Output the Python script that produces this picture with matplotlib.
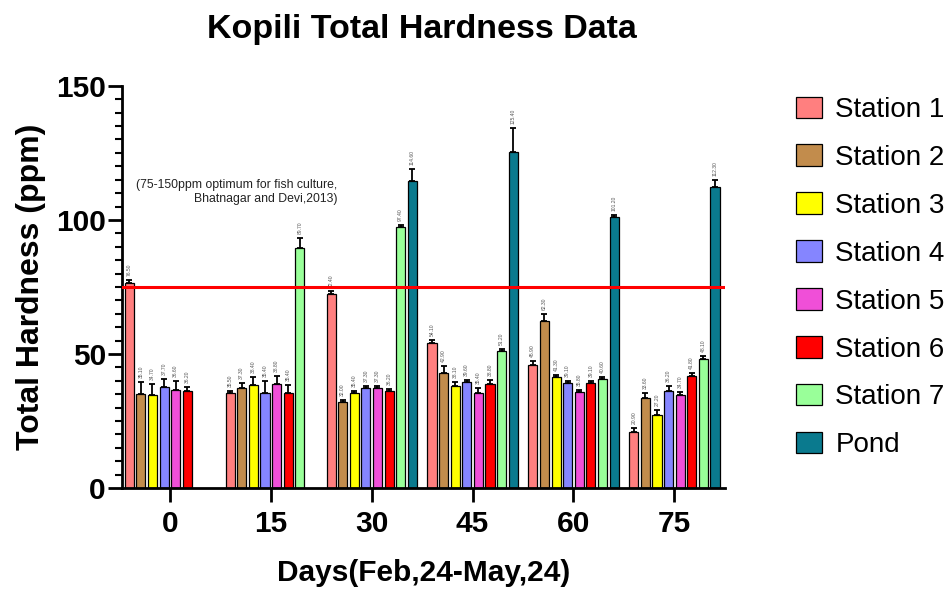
import numpy as np
import matplotlib.pyplot as plt
from matplotlib.ticker import MultipleLocator

plt.rcParams['font.family'] = ['Liberation Sans', 'DejaVu Sans']

days = ["0", "15", "30", "45", "60", "75"]
stations = ["Station 1", "Station 2", "Station 3", "Station 4",
            "Station 5", "Station 6", "Station 7", "Pond"]
colors = ["#FF7F7F", "#C28C4C", "#FFFF00", "#8585FF",
          "#F04FD8", "#FF0000", "#99FF99", "#0A7A8E"]

nan = np.nan
# mean total hardness (ppm), one row per station, one column per day
station1 = [76.50, 35.50, 72.40, 54.10, 45.90, 20.90]
station2 = [35.10, 37.30, 32.00, 42.90, 62.30, 33.60]
station3 = [34.70, 38.40, 35.40, 38.10, 41.30, 27.20]
station4 = [37.70, 35.40, 37.30, 39.60, 39.10, 36.20]
station5 = [36.60, 38.80, 37.30, 35.40, 35.80, 34.70]
station6 = [36.20, 35.40, 36.20, 38.80, 39.10, 41.80]
station7 = [nan, 89.70, 97.40, 51.20, 40.60, 48.10]
pond = [nan, nan, 114.60, 125.40, 101.20, 112.30]

# standard deviations
err1 = [1.2, 0.8, 1.0, 1.0, 1.5, 1.5]
err2 = [4.5, 2.0, 0.8, 2.5, 2.5, 2.0]
err3 = [4.0, 3.0, 0.8, 1.5, 0.8, 2.0]
err4 = [3.0, 4.5, 0.8, 0.8, 0.8, 2.0]
err5 = [3.5, 3.0, 0.8, 2.0, 0.8, 1.0]
err6 = [1.5, 3.0, 0.8, 1.5, 0.8, 1.0]
err7 = [nan, 3.5, 0.8, 0.8, 0.8, 1.0]
errp = [nan, nan, 4.5, 9.0, 0.8, 2.5]

values = [station1, station2, station3, station4, station5, station6, station7, pond]
errors = [err1, err2, err3, err4, err5, err6, err7, errp]

fig = plt.figure(figsize=(9.52, 5.96), dpi=100)
ax = fig.add_axes([0.128, 0.181, 0.634, 0.675])

x = np.arange(len(days))
step = 0.115
width = 0.09

for i, (vals, errs) in enumerate(zip(values, errors)):
    pos = x + (i - 3.5) * step
    vals = np.array(vals, dtype=float)
    errs = np.array(errs, dtype=float)
    ax.bar(pos, vals, width, color=colors[i], edgecolor="black",
           linewidth=0.9, label=stations[i], zorder=2)
    ax.errorbar(pos, vals, yerr=[np.zeros_like(errs), errs], fmt="none",
                ecolor="black", elinewidth=1.3, capsize=2.2, capthick=1.3, zorder=3)
    for p, v, e in zip(pos, vals, errs):
        if np.isnan(v):
            continue
        ax.text(p, v + e + 1.5, f"{v:.2f}", rotation=90, ha="center", va="bottom",
                fontsize=3.6, color="#555555")

ax.axhline(75, color="red", linewidth=2.2, zorder=4)
ax.text(1.66, 110.5, "(75-150ppm optimum for fish culture,\nBhatnagar and Devi,2013)",
        ha="right", va="center", multialignment="right", fontsize=8.8, color="#222222",
        linespacing=1.2)

ax.set_xlim(-0.476, 5.506)
ax.set_ylim(0, 150)
ax.set_xticks(x)
ax.set_xticklabels(days)
ax.yaxis.set_major_locator(MultipleLocator(50))
ax.yaxis.set_minor_locator(MultipleLocator(5))

for side in ["top", "right"]:
    ax.spines[side].set_visible(False)
for side in ["left", "bottom"]:
    ax.spines[side].set_linewidth(2)

ax.tick_params(axis="both", which="major", length=10, width=2, labelsize=21.5)
ax.tick_params(axis="y", which="minor", length=5, width=1.5)
ax.tick_params(axis="x", pad=6)
ax.tick_params(axis="y", pad=1.5)
for lab in ax.get_xticklabels() + ax.get_yticklabels():
    lab.set_fontweight("bold")

ax.set_ylabel("Total Hardness (ppm)", fontsize=23, fontweight="bold", labelpad=7)
ax.set_xlabel("Days(Feb,24-May,24)", fontsize=21.5, fontweight="bold", labelpad=15)
fig.text(0.443, 0.95, "Kopili Total Hardness Data", ha="center", va="center",
         fontsize=24.5, fontweight="bold")

fig.legend(loc="upper left", bbox_to_anchor=(0.836, 0.838), frameon=False,
           fontsize=20, handlelength=0.95, handleheight=0.8, labelspacing=0.78,
           handletextpad=0.47, borderaxespad=0, borderpad=0)

fig.savefig("out.png", dpi=100)
